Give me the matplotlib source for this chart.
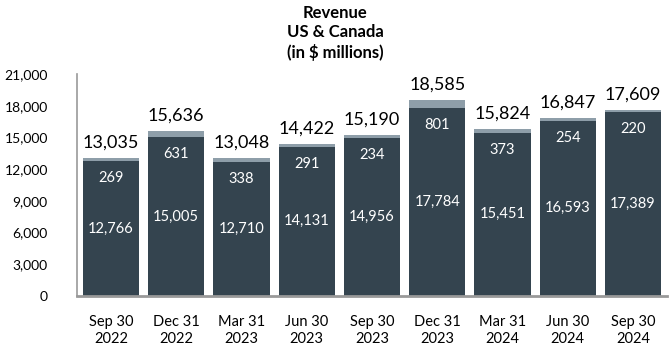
import matplotlib.pyplot as plt
import numpy as np

plt.rcParams['font.family'] = ['Lato', 'DejaVu Sans']

quarters = ['Sep 30\n2022', 'Dec 31\n2022', 'Mar 31\n2023', 'Jun 30\n2023', 'Sep 30\n2023',
            'Dec 31\n2023', 'Mar 31\n2024', 'Jun 30\n2024', 'Sep 30\n2024']
base = [12766, 15005, 12710, 14131, 14956, 17784, 15451, 16593, 17389]
extra = [269, 631, 338, 291, 234, 801, 373, 254, 220]
totals = [13035, 15636, 13048, 14422, 15190, 18585, 15824, 16847, 17609]

dark = '#34444f'
light = '#8e9ea9'

fig = plt.figure(figsize=(6.7, 3.52), dpi=100)
ax = fig.add_axes([77 / 670, 1 - 296 / 352, 590 / 670, 222 / 352])

x = np.arange(len(quarters))
ax.bar(x, base, width=0.86, color=dark)
ax.bar(x, extra, width=0.86, bottom=base, color=light)

for i in x:
    ax.text(i, base[i] / 2, f'{base[i]:,}', ha='center', va='center', color='white', fontsize=10.5)
    ax.text(i, base[i] - 1600, f'{extra[i]:,}', ha='center', va='center', color='white', fontsize=10.5)
    ax.text(i, totals[i] + 700, f'{totals[i]:,}', ha='center', va='bottom', color='black', fontsize=13)

ax.set_xlim(-0.52, 8.52)
ax.set_ylim(0, 21000)
ax.set_yticks(range(0, 21001, 3000))
ax.set_yticklabels([f'{v:,}' for v in range(0, 21001, 3000)], fontsize=10)
ax.set_xticks(x)
ax.set_xticklabels(quarters, fontsize=10.5)
ax.tick_params(axis='both', length=0)
ax.tick_params(axis='y', pad=21)
ax.tick_params(axis='x', pad=14)

for s in ['top', 'right']:
    ax.spines[s].set_visible(False)
ax.spines['left'].set_color('#999999')
ax.spines['left'].set_linewidth(1.2)
ax.spines['bottom'].set_color('#999999')
ax.spines['bottom'].set_linewidth(2)

fig.text(0.5, 1 - 33 / 352, 'Revenue\nUS & Canada\n(in $ millions)', ha='center', va='center',
         fontsize=12, fontweight='bold', linespacing=1.25)

fig.savefig('out.png', dpi=100)
